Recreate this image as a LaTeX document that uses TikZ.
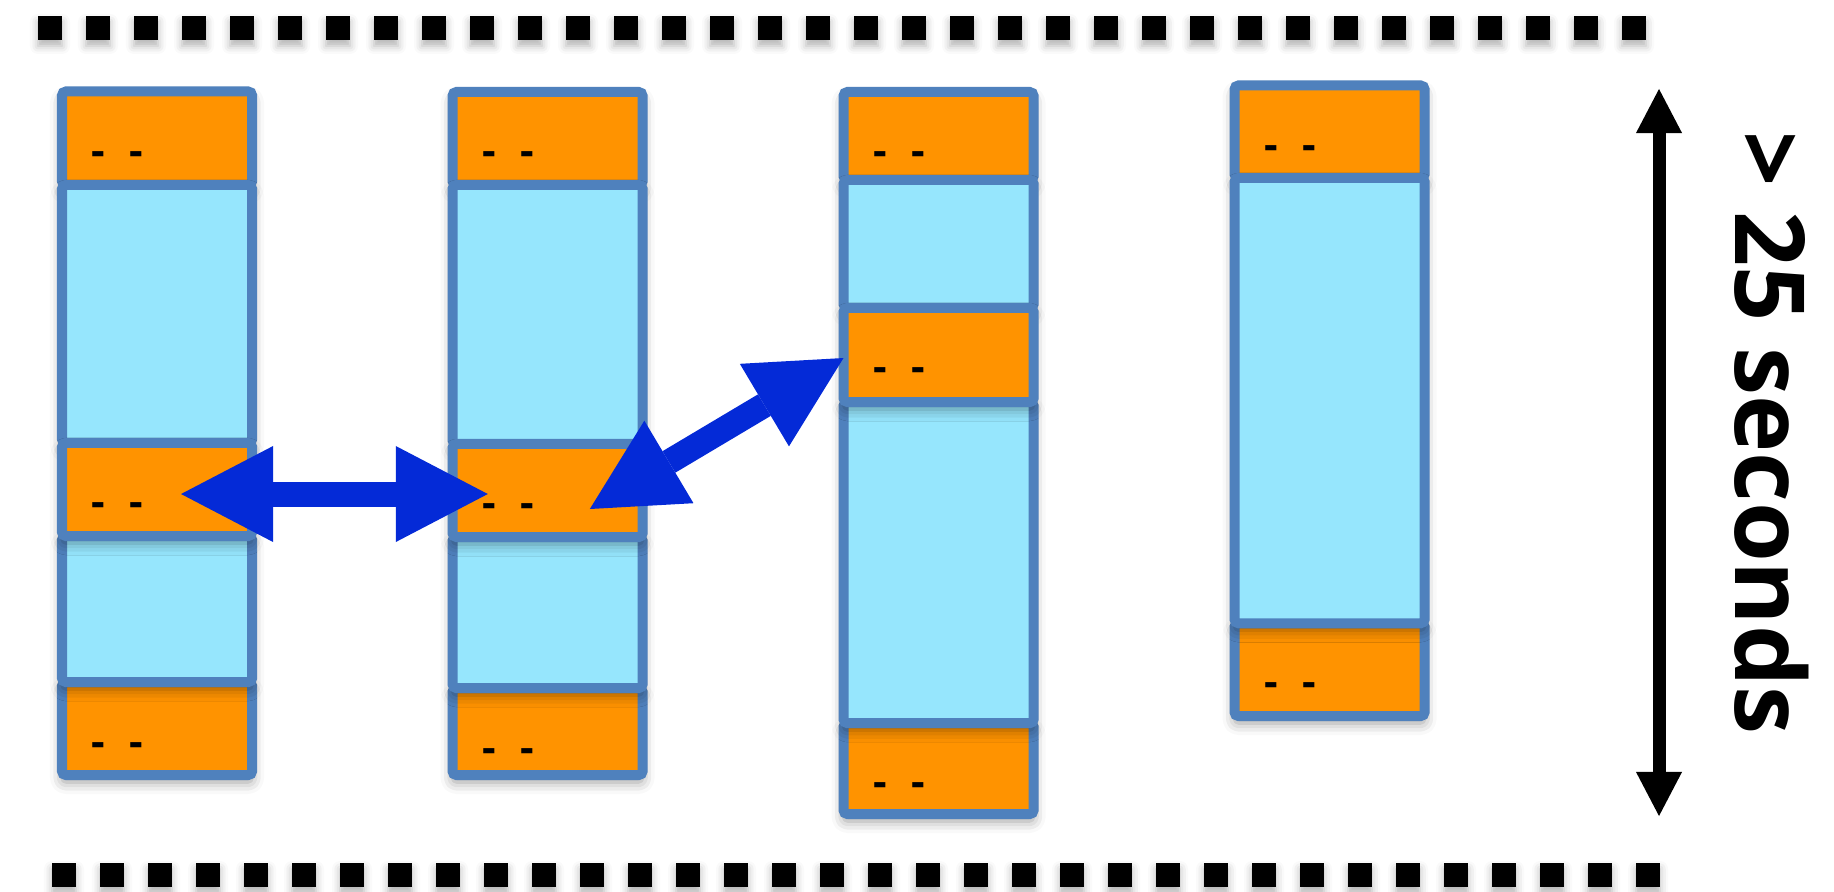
\documentclass[tikz,border=0pt]{standalone}
\usepackage{fontspec}
\newfontfamily\opensans{Open Sans}
\usetikzlibrary{arrows.meta,calc,shadows.blur}
\definecolor{segline}{RGB}{79,129,189}
\definecolor{segorange}{RGB}{255,147,0}
\definecolor{segcyan}{RGB}{150,230,253}
\definecolor{swapblue}{RGB}{4,42,215}

\begin{document}
\begin{tikzpicture}[x=0.01cm, y=-0.01cm,
    seg/.style={draw=segline, line width=0.1cm, rounded corners=0.04cm, inner sep=0pt, outer sep=0pt,
        minimum width=1.9cm, anchor=north west,
        blur shadow={shadow xshift=0cm, shadow yshift=-0.07cm, shadow blur radius=0.12cm, shadow opacity=40}},
    busy/.style={seg, fill=segorange},
    idle/.style={seg, fill=segcyan},
    tag/.style={font=\opensans\bfseries\fontsize{12}{14}\selectfont, anchor=base west, inner sep=0pt},
    gapmark/.style={fill=black, blur shadow={shadow xshift=0cm, shadow yshift=-0.06cm, shadow blur radius=0.08cm, shadow opacity=30}},
    swap/.style={line width=0.25cm, swapblue,
        {Triangle[length=0.92cm, width=0.96cm, line width=0pt]}-{Triangle[length=0.92cm, width=0.96cm, line width=0pt]}},
    timeline/.style={line width=0.13cm, black,
        {Triangle[length=0.44cm, width=0.46cm, line width=0pt]}-{Triangle[length=0.44cm, width=0.46cm, line width=0pt]}}]

    \useasboundingbox (0,0) rectangle (1834,892);

    % --- pausas: lineas de cuadros arriba y abajo ---
    \foreach \i in {0,...,33} {
        \fill[gapmark] (38+48*\i,16) rectangle ++(24,24);
        \fill[gapmark] (52+48*\i,863) rectangle ++(24,24);
    }

    % --- columna 1 ---
    \node[busy, minimum height=0.935cm] (a1) at (62,91.5) {};
    \node[idle, minimum height=2.58cm] (a2) at (62,185) {};
    \node[busy, minimum height=0.93cm] (a5) at (62,682) {};
    \node[idle, minimum height=1.46cm] (a4) at (62,536) {};
    \node[busy, minimum height=0.93cm] (a3) at (62,443) {};

    % --- columna 2 ---
    \node[busy, minimum height=0.93cm] (b1) at (452.5,92) {};
    \node[idle, minimum height=2.59cm] (b2) at (452.5,185) {};
    \node[busy, minimum height=0.87cm] (b5) at (452.5,688) {};
    \node[idle, minimum height=1.51cm] (b4) at (452.5,537) {};
    \node[busy, minimum height=0.93cm] (b3) at (452.5,444) {};

    % --- columna 3 ---
    \node[busy, minimum height=0.88cm] (c1) at (843.5,92) {};
    \node[idle, minimum height=1.28cm] (c2) at (843.5,180) {};
    \node[busy, minimum height=0.91cm] (c5) at (843.5,723) {};
    \node[idle, minimum height=3.21cm] (c4) at (843.5,402) {};
    \node[busy, minimum height=0.94cm] (c3) at (843.5,308) {};

    % --- columna 4 ---
    \node[busy, minimum height=0.925cm] (d1) at (1234.5,85.5) {};
    \node[busy, minimum height=0.93cm] (d3) at (1234.5,623) {};
    \node[idle, minimum height=4.45cm] (d2) at (1234.5,178) {};

    % marcas dentro de los bloques naranjas
    \foreach \n in {a1,a3,a5,b1,b3,b5,c1,c3,c5,d1,d3}
        \node[tag] (\n t) at ($(\n.north west)+(29,74)$) {-\hspace{7pt}-};

    % flechas de intercambio
    \draw[swap] ($(a3.center)+(24,4.5)$) -- ($(b3.center)+(-59.75,3.5)$);
    \draw[swap] ($(b3.center)+(42.25,18.5)$) -- ($(c3.west)+(0,3)$);

    % duracion
    \coordinate (spantop) at (1659,89);
    \coordinate (spanbot) at (1659,816);
    \draw[timeline] (spantop) -- (spanbot);
    \node[font=\opensans\bfseries\fontsize{27.5}{30}\selectfont, rotate=-90, anchor=base, inner sep=0pt] (span) at (1735,433) {> 25 seconds};
\end{tikzpicture}
\end{document}
